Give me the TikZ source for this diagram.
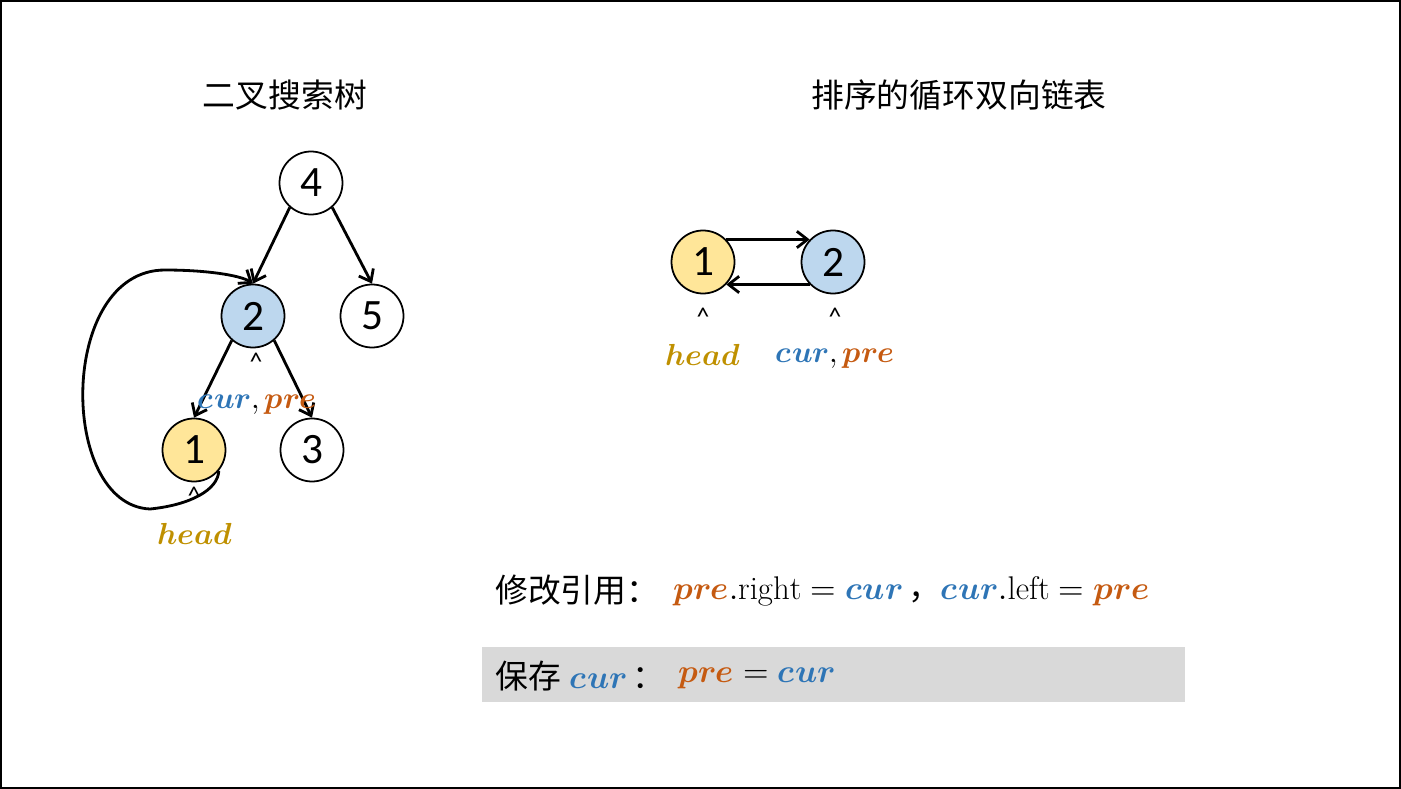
\documentclass[tikz,border=0pt]{standalone}
\usepackage{fontspec}
\usepackage{unicode-math}
\setmathfont{Latin Modern Math}
\newfontfamily\cjk{Noto Sans CJK SC}
\newfontfamily\digits{Carlito}
\usetikzlibrary{arrows.meta}

\definecolor{nodeblue}{HTML}{BDD7EE}
\definecolor{nodeyellow}{HTML}{FFE699}
\definecolor{curblue}{HTML}{2E75B6}
\definecolor{preorange}{HTML}{C55A11}
\definecolor{headgold}{HTML}{BF9000}
\definecolor{boxgray}{HTML}{D9D9D9}

\newcommand{\cur}{\textcolor{curblue}{\mathbfit{cur}}}
\newcommand{\pre}{\textcolor{preorange}{\mathbfit{pre}}}
\newcommand{\head}{\textcolor{headgold}{\mathbfit{head}}}

\tikzset{
  numnode/.style={circle, draw, line width=1.5pt, minimum size=1.89cm, inner sep=0pt,
    font=\digits\fontsize{37}{42}\selectfont},
  edge/.style={line width=2.4pt, -{Straight Barb[length=9pt,width=14pt,line width=2.4pt]}},
  caret/.style={font=\digits\fontsize{22}{26}\selectfont, inner sep=0pt},
  varlabel/.style={font=\fontsize{26}{30}\selectfont, inner sep=0pt},
  title/.style={font=\cjk\fontsize{28}{34}\selectfont, inner sep=0pt},
  formula/.style={font=\fontsize{28}{34}\selectfont, inner sep=0pt, anchor=west}
}

\begin{document}
\begin{tikzpicture}[x=0.03cm, y=-0.03cm]

  % Picture size and frame
  \useasboundingbox (0,0) rectangle (1401,789);
  \draw[line width=2pt] (1,1) rectangle (1400,788);

  % Titles
  \node[title] (ttree) at (285,95) {二叉搜索树};
  \node[title] (tlist) at (959,95) {排序的循环双向链表};

  % The binary search tree
  \node[numnode] (n4) at (311,183) {4};
  \node[numnode, fill=nodeblue] (n2) at (253,316) {2};
  \node[numnode] (n5) at (372,316) {5};
  \node[numnode, fill=nodeyellow] (n1) at (194,450) {1};
  \node[numnode] (n3) at (312,450) {3};

  % children are reached at their top
  \draw[edge] (n4.-131) -- (n2.north);
  \draw[edge] (n4.-49) -- (n5.north);
  \draw[edge] (n2.-131) -- (n1.north);
  \draw[edge] (n2.-49) -- (n3.north);

  % Link from head back to node 2
  \draw[edge] (n1.-40) .. controls (218,490) and (190,505) .. (150,509)
    .. controls (58,505) and (58,270) .. (165,270)
    .. controls (205,270) and (240,275) .. (n2.north);

  % Pointers in the tree
  \node[caret] (c2) at (256,362) {\textasciicircum};
  \node[varlabel] (lcurpre) at (257,405) {$\cur,\pre$};
  \node[caret] (c1) at (194,496) {\textasciicircum};
  \node[varlabel] (lhead) at (195,534) {$\head$};

  % The sorted circular list
  \node[numnode, fill=nodeyellow] (r1) at (703,262) {1};
  \node[numnode, fill=nodeblue] (r2) at (833,262) {2};

  \draw[edge, line width=2pt] (r1.44) -- (r2.136);
  \draw[edge, line width=2pt] (r2.-136) -- (r1.-44);

  % Pointers in the list
  \node[caret] (cr1) at (703,317) {\textasciicircum};
  \node[caret] (cr2) at (835,317) {\textasciicircum};
  \node[varlabel] (rhead) at (703,355) {$\head$};
  \node[varlabel] (rcurpre) at (835,359) {$\cur,\pre$};

  % Changing the references
  \node[formula, font=\cjk\fontsize{28}{34}\selectfont] (modify) at (495,590) {修改引用：};
  \node[formula] (modifyeq) at (673,591)
    {$\pre.\mathrm{right}=\cur$\,{\cjk ，}$\cur.\mathrm{left}=\pre$};

  % Saving cur
  \fill[boxgray] (482,647) rectangle (1185,702);
  \node[formula] (save) at (495,676) {{\cjk 保存}\;$\cur$\,{\cjk ：}};
  \node[formula] (saveeq) at (678,678) {$\pre=\cur$};

\end{tikzpicture}
\end{document}
